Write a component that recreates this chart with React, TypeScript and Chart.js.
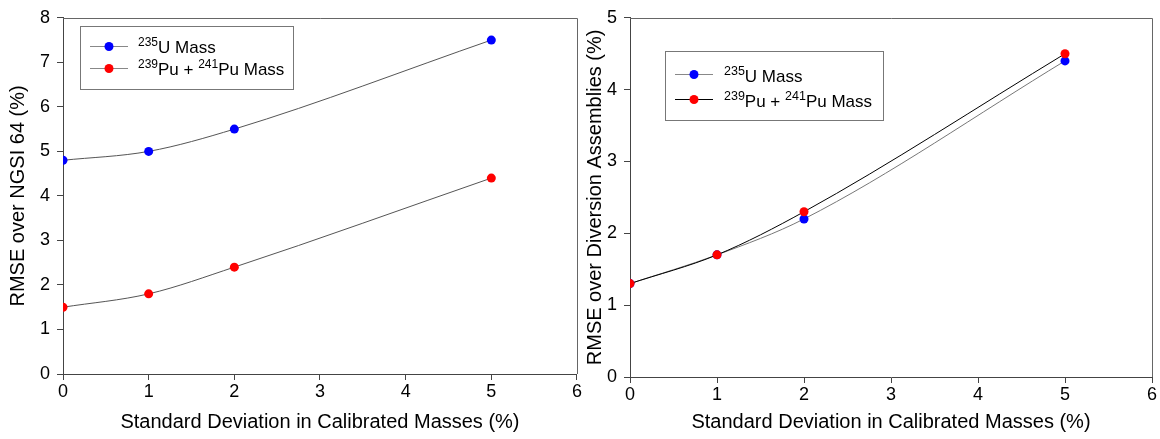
import { useEffect, useRef } from 'react';
import { Chart, registerables } from 'chart.js';

Chart.register(...registerables);

// ---- data ----
const xValues = [0, 1, 2, 5];
const ngsiU235 = [4.8, 5.0, 5.5, 7.5];
const ngsiPu = [1.5, 1.8, 2.4, 4.4];
const divU235 = [1.3, 1.7, 2.2, 4.4];
const divPu = [1.3, 1.7, 2.3, 4.5];

const xTitle = 'Standard Deviation in Calibrated Masses (%)';
const leftYTitle = 'RMSE over NGSI 64 (%)';
const rightYTitle = 'RMSE over Diversion Assemblies (%)';

const legendU = [
  { t: '235', sup: true },
  { t: 'U Mass', sup: false },
];
const legendPu = [
  { t: '239', sup: true },
  { t: 'Pu + ', sup: false },
  { t: '241', sup: true },
  { t: 'Pu Mass', sup: false },
];

const FONT = '"Liberation Sans", Arial, Helvetica, sans-serif';
const BLUE = '#0000ff';
const RED = '#ff0000';

const framePlugin = {
  id: 'frameBox',
  beforeDatasetsDraw(chart: any) {
    const { ctx, chartArea: ca } = chart;
    ctx.save();
    ctx.strokeStyle = '#666';
    ctx.lineWidth = 1;
    ctx.beginPath();
    ctx.moveTo(Math.round(ca.left), Math.round(ca.top) + 0.5);
    ctx.lineTo(Math.round(ca.right) + 0.5, Math.round(ca.top) + 0.5);
    ctx.lineTo(Math.round(ca.right) + 0.5, Math.round(ca.bottom));
    ctx.stroke();
    ctx.restore();
  },
};

const supLegendPlugin = {
  id: 'supLegend',
  afterDraw(chart: any, _args: any, opts: any) {
    if (!opts || !opts.rows) return;
    const { ctx, chartArea: ca } = chart;
    const x = Math.round(ca.left + opts.dx);
    const y = Math.round(ca.top + opts.dy);
    ctx.save();
    ctx.fillStyle = '#fff';
    ctx.fillRect(x, y, opts.w, opts.h);
    ctx.strokeStyle = '#777';
    ctx.lineWidth = 1;
    ctx.strokeRect(x + 0.5, y + 0.5, opts.w, opts.h);
    opts.rows.forEach((row: any, i: number) => {
      const ry = y + opts.firstRow + i * opts.rowGap;
      ctx.strokeStyle = row.lineColor;
      ctx.lineWidth = 1;
      ctx.beginPath();
      ctx.moveTo(x + opts.lineX0, ry + 0.5);
      ctx.lineTo(x + opts.lineX1, ry + 0.5);
      ctx.stroke();
      ctx.fillStyle = row.color;
      ctx.beginPath();
      ctx.arc(x + (opts.lineX0 + opts.lineX1) / 2, ry + 0.5, 4.5, 0, Math.PI * 2);
      ctx.fill();
      let tx = x + opts.textX;
      const base = ry + opts.baseOff;
      ctx.fillStyle = '#000';
      ctx.textBaseline = 'alphabetic';
      ctx.textAlign = 'left';
      row.segs.forEach((s: any) => {
        ctx.font = `${s.sup ? opts.supSize : opts.size}px ${FONT}`;
        ctx.fillText(s.t, tx, s.sup ? base - opts.supRise : base);
        tx += ctx.measureText(s.t).width;
      });
    });
    ctx.restore();
  },
};

function toPoints(ys: number[]) {
  return xValues.map((x, i) => ({ x, y: ys[i] }));
}

function makeConfig(p: any) {
  return {
    type: 'scatter',
    data: {
      datasets: [
        {
          label: 'Pu',
          data: toPoints(p.pu),
          showLine: true,
          borderColor: p.puLine,
          borderWidth: 1,
          backgroundColor: RED,
          pointBackgroundColor: RED,
          pointBorderColor: RED,
          pointBorderWidth: 0,
          pointRadius: 4.5,
          cubicInterpolationMode: 'monotone',
          tension: 0.4,
          order: 0,
        },
        {
          label: 'U',
          data: toPoints(p.u),
          showLine: true,
          borderColor: p.uLine,
          borderWidth: 1,
          backgroundColor: BLUE,
          pointBackgroundColor: BLUE,
          pointBorderColor: BLUE,
          pointBorderWidth: 0,
          pointRadius: 4.5,
          cubicInterpolationMode: 'monotone',
          tension: 0.4,
          order: 1,
        },
      ],
    },
    options: {
      responsive: false,
      animation: false,
      devicePixelRatio: 1,
      layout: { padding: { top: p.top, right: p.right, left: 0, bottom: 0 } },
      scales: {
        x: {
          type: 'linear',
          min: 0,
          max: 6,
          ticks: { stepSize: 1, color: '#000', font: { family: FONT, size: 18 }, padding: 1, maxRotation: 0 },
          grid: { drawOnChartArea: false, drawTicks: true, tickLength: 6, color: '#444' },
          border: { color: '#444' },
          title: {
            display: true,
            text: xTitle,
            color: '#000',
            font: { family: FONT, size: 20 },
            padding: { top: 0, bottom: 5 },
          },
          afterFit(s: any) {
            s.height = p.xHeight;
          },
        },
        y: {
          type: 'linear',
          min: 0,
          max: p.yMax,
          ticks: { stepSize: 1, color: '#000', font: { family: FONT, size: 18 }, padding: 7 },
          grid: { drawOnChartArea: false, drawTicks: true, tickLength: 6, color: '#444' },
          border: { color: '#444' },
          title: {
            display: true,
            text: p.yTitle,
            color: '#000',
            font: { family: FONT, size: 20 },
            padding: { top: p.yTitlePad, bottom: 0 },
          },
          afterFit(s: any) {
            s.width = p.yWidth;
          },
        },
      },
      plugins: {
        legend: { display: false },
        tooltip: { enabled: false },
        supLegend: p.legend,
      },
    },
    plugins: [framePlugin, supLegendPlugin],
  };
}

function ChartCanvas(props: { cfg: any; width: number; height: number; left: number }) {
  const ref = useRef<HTMLCanvasElement | null>(null);
  useEffect(() => {
    if (!ref.current) return;
    const chart = new Chart(ref.current, props.cfg);
    return () => chart.destroy();
  }, []);
  return (
    <canvas
      ref={ref}
      width={props.width}
      height={props.height}
      style={{ position: 'absolute', left: props.left, top: 0, width: props.width, height: props.height }}
    />
  );
}

export default function App() {
  const leftCfg = makeConfig({
    u: ngsiU235,
    pu: ngsiPu,
    uLine: '#555',
    puLine: '#555',
    yMax: 8,
    yTitle: leftYTitle,
    top: 14,
    right: 6,
    xHeight: 65,
    yWidth: 63,
    yTitlePad: 6,
    legend: {
      dx: 17,
      dy: 8,
      w: 213,
      h: 63,
      firstRow: 20,
      rowGap: 22,
      lineX0: 10,
      lineX1: 48,
      textX: 58,
      baseOff: 7,
      size: 17,
      supSize: 12,
      supRise: 7.5,
      rows: [
        { color: BLUE, lineColor: '#888', segs: legendU },
        { color: RED, lineColor: '#888', segs: legendPu },
      ],
    },
  });
  const rightCfg = makeConfig({
    u: divU235,
    pu: divPu,
    uLine: '#777',
    puLine: '#000',
    yMax: 5,
    yTitle: rightYTitle,
    top: 11,
    right: 8,
    xHeight: 62,
    yWidth: 47,
    yTitlePad: 0,
    legend: {
      dx: 35,
      dy: 33,
      w: 218,
      h: 69,
      firstRow: 23,
      rowGap: 25,
      lineX0: 10,
      lineX1: 48,
      textX: 59,
      baseOff: 8,
      size: 17,
      supSize: 12.5,
      supRise: 7.5,
      rows: [
        { color: BLUE, lineColor: '#888', segs: legendU },
        { color: RED, lineColor: '#000', segs: legendPu },
      ],
    },
  });
  return (
    <div style={{ position: 'absolute', left: 0, top: 0, width: 1160, height: 439, background: '#fff', overflow: 'hidden' }}>
      <ChartCanvas cfg={leftCfg} width={583} height={439} left={0} />
      <ChartCanvas cfg={rightCfg} width={577} height={439} left={583} />
    </div>
  );
}
